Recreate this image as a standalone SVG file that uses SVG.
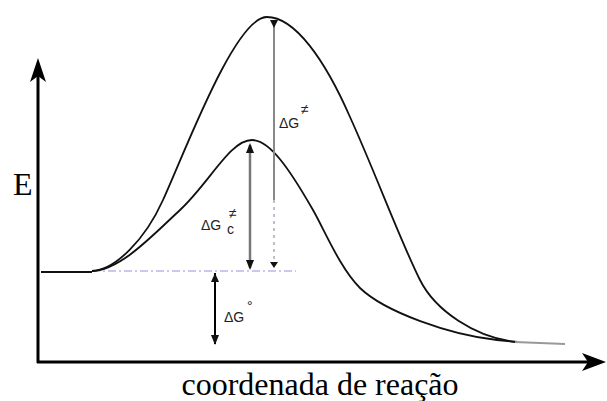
<svg xmlns="http://www.w3.org/2000/svg" width="607" height="401" viewBox="0 0 607 401">
<style>
.ax{stroke:#000;stroke-width:3;fill:none}
.cv{stroke:#111;stroke-width:1.8;fill:none}
.lbl{font-family:"Liberation Serif",serif;fill:#000}
.sm{font-family:"Liberation Sans",sans-serif;fill:#222;font-size:14px}
</style>
<g id="axes">
<line class="ax" x1="38" y1="363" x2="38" y2="70"/>
<path d="M38,58 L30,82 L38,76 L46,82 Z" fill="#000"/>
<line class="ax" x1="37" y1="362" x2="592" y2="362"/>
<path d="M606,362 L582,353 L588,362 L582,371 Z" fill="#000"/>
</g>
<g id="curves">
<line x1="41" y1="272" x2="92" y2="272" class="cv"/>
<line x1="92" y1="271" x2="296" y2="271" stroke="#b8b8e8" stroke-width="1.5" stroke-dasharray="8,3,2,3"/>
<path class="cv" d="M92,271 C115,270 145,240 163,200 C185,152 235,17 267,17 C295,17 325,60 350,117 C375,172 400,240 420,280 C435,310 475,338 517,342"/>
<path class="cv" d="M92,271 C120,270 150,238 180,210 C210,182 230,140 252,140 C270,140 290,170 313,210 C325,231 340,268 360,288 C385,312 450,335 497,340 L517,342"/>
<line x1="515" y1="342" x2="565" y2="344" stroke="#999" stroke-width="2"/>
</g>
<g id="arrows">
<line x1="274" y1="22" x2="274" y2="200" stroke="#888" stroke-width="2"/>
<line x1="274" y1="200" x2="274" y2="262" stroke="#aab" stroke-width="1.5" stroke-dasharray="3,4"/>
<path d="M270,20 L278,20 L274,28 Z" fill="#111"/>
<path d="M270,262 L278,262 L274,268 Z" fill="#111"/>
<line x1="250" y1="145" x2="250" y2="268" stroke="#777" stroke-width="2.5"/>
<path d="M246,153 L254,153 L250,143 Z" fill="#111"/>
<path d="M246,260 L254,260 L250,270 Z" fill="#111"/>
<line x1="215" y1="273" x2="215" y2="344" stroke="#000" stroke-width="2"/>
<path d="M211,282 L219,282 L215,273 Z" fill="#111"/>
<path d="M211,335 L219,335 L215,345 Z" fill="#111"/>
</g>
<g id="labels">
<text class="lbl" x="13" y="195" font-size="32">E</text>
<text class="lbl" x="320" y="395" font-size="32" text-anchor="middle">coordenada de reação</text>
<text class="sm" x="279" y="128">ΔG</text>
<text class="sm" x="301" y="114" font-size="11">≠</text>
<text class="sm" x="201" y="230">ΔG</text>
<text class="sm" x="229" y="218" font-size="11">≠</text>
<text class="sm" x="227" y="234" font-size="10">c</text>
<text class="sm" x="224" y="322">ΔG</text>
<text class="sm" x="247" y="311" font-size="11">°</text>
</g>
</svg>
